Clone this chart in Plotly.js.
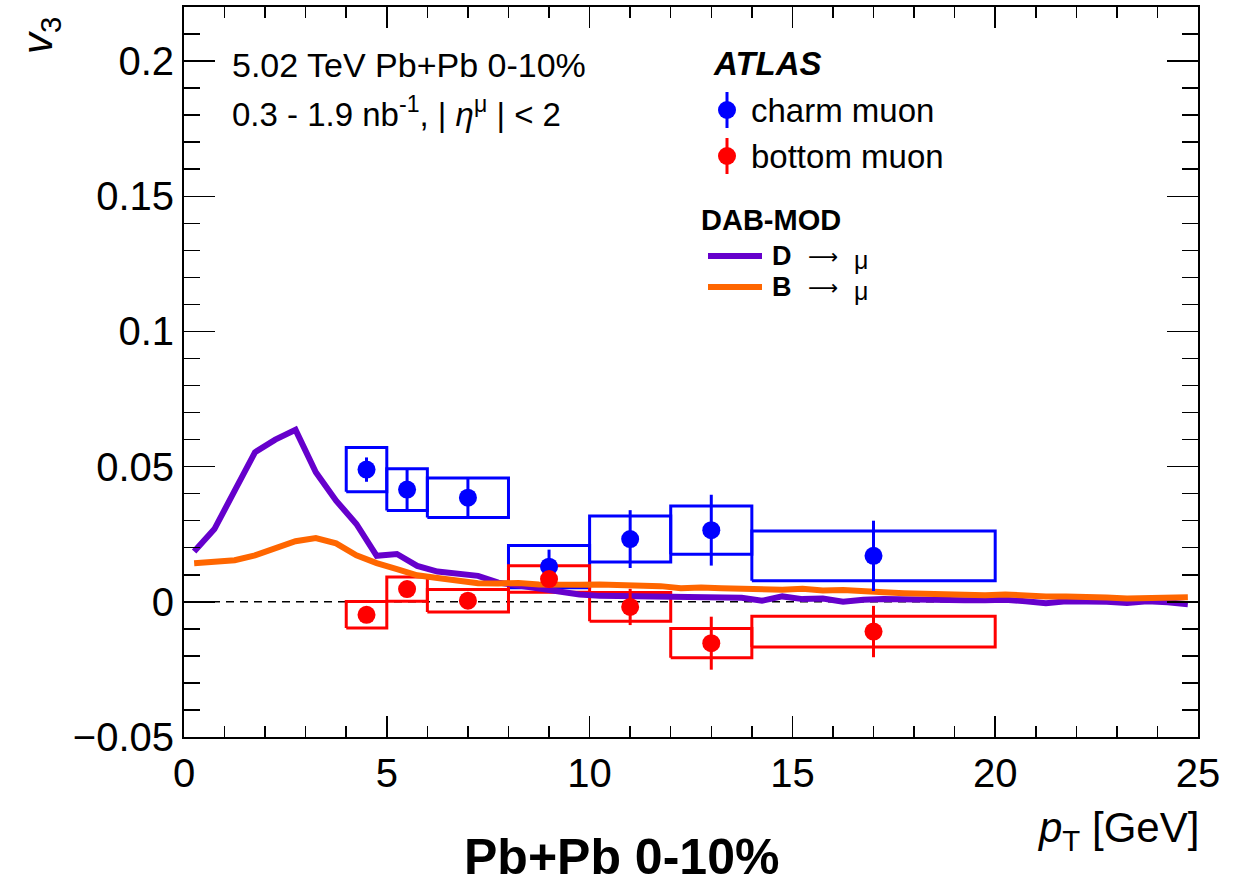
<!DOCTYPE html>
<html>
<head>
<meta charset="utf-8">
<script src="https://cdn.plot.ly/plotly-3.0.1.min.js"></script>
<style>html,body{margin:0;padding:0;background:#fff;}#chart{width:1248px;height:888px;}</style>
</head>
<body>
<div id="chart"></div>
<script>
// ---- data ----
const binCenters = [4.5, 5.5, 7, 9, 11, 13, 17];
const binLow  = [4, 5, 6, 8, 10, 12, 14];
const binHigh = [5, 6, 8, 10, 12, 14, 20];

const charmV    = [0.0489, 0.0415, 0.0385, 0.0130, 0.0232, 0.0265, 0.0170];
const charmStat = [0.0045, 0.0075, 0.0070, 0.0063, 0.0107, 0.0131, 0.0130];
const charmSys  = [0.0082, 0.0077, 0.0073, 0.0078, 0.0085, 0.0089, 0.0092];

const bottomV    = [-0.0048, 0.0047, 0.0004, 0.0084, -0.0019, -0.0153, -0.0110];
const bottomStat = [0.0020, 0.0030, 0.0025, 0.0030, 0.0067, 0.0098, 0.0095];
const bottomSys  = [0.0049, 0.0045, 0.0042, 0.0049, 0.0053, 0.0054, 0.0057];

const modelPt = [0.25,0.75,1.25,1.75,2.25,2.75,3.25,3.75,4.25,4.75,5.25,5.75,6.25,6.75,7.25,7.75,8.25,8.75,9.25,9.75,
                 10.25,10.75,11.25,11.75,12.25,12.75,13.25,13.75,14.25,14.75,15.25,15.75,16.25,16.75,17.25,17.75,18.25,18.75,19.25,19.75,
                 20.25,20.75,21.25,21.75,22.25,22.75,23.25,23.75,24.25,24.75];
const dToMu = [0.0186,0.0269,0.0411,0.0553,0.0600,0.0636,0.0479,0.0374,0.0288,0.0170,0.0177,0.0133,0.0112,0.0105,0.0096,0.0071,0.0059,0.0052,0.0040,0.0027,
               0.0022,0.0021,0.0022,0.0021,0.0019,0.0018,0.0018,0.0015,0.0004,0.0020,0.0010,0.0012,0.0000,0.0008,0.0010,0.0008,0.0006,0.0008,0.0006,0.0006,
               0.0008,0.0002,-0.0005,0.0002,0.0002,0.0000,-0.0004,0.0002,-0.0002,-0.0009];
const bToMu = [0.0143,0.0150,0.0154,0.0172,0.0200,0.0224,0.0236,0.0216,0.0172,0.0143,0.0121,0.0098,0.0088,0.0078,0.0069,0.0068,0.0070,0.0064,0.0062,0.0063,
               0.0064,0.0062,0.0060,0.0058,0.0050,0.0053,0.0050,0.0047,0.0046,0.0045,0.0048,0.0042,0.0044,0.0038,0.0035,0.0032,0.0029,0.0027,0.0028,0.0024,
               0.0027,0.0022,0.0020,0.0020,0.0020,0.0016,0.0012,0.0015,0.0017,0.0017];

const xTickVals = [0, 5, 10, 15, 20, 25];
const yTickVals = [-0.05, 0, 0.05, 0.1, 0.15, 0.2];
const yTickText = ["−0.05", "0", "0.05", "0.1", "0.15", "0.2"];

// ---- styles ----
const FONT = "Liberation Sans, Arial, Helvetica, sans-serif";
const BLUE = "#0000ff", RED = "#ff0000", PURPLE = "#6600cc", ORANGE = "#ff6600";

function boxTrace(vals, sys, color) {
  const xs = [], ys = [];
  for (let i = 0; i < vals.length; i++) {
    const lo = vals[i] - sys[i], hi = vals[i] + sys[i];
    xs.push(binLow[i], binHigh[i], binHigh[i], binLow[i], binLow[i], null);
    ys.push(lo, lo, hi, hi, lo, null);
  }
  return {x: xs, y: ys, type: 'scatter', mode: 'lines', line: {color: color, width: 3}, hoverinfo: 'skip', showlegend: false};
}
function pointTrace(vals, stat, color) {
  return {x: binCenters, y: vals, type: 'scatter', mode: 'markers',
    marker: {color: color, size: 18, symbol: 'circle'},
    error_y: {type: 'data', array: stat, visible: true, color: color, thickness: 3, width: 0},
    showlegend: false};
}

const traces = [
  boxTrace(charmV, charmSys, BLUE),
  boxTrace(bottomV, bottomSys, RED),
  {x: modelPt, y: dToMu, type: 'scatter', mode: 'lines', line: {color: PURPLE, width: 6}, showlegend: false},
  {x: modelPt, y: bToMu, type: 'scatter', mode: 'lines', line: {color: ORANGE, width: 6}, showlegend: false},
  pointTrace(charmV, charmStat, BLUE),
  pointTrace(bottomV, bottomStat, RED)
];

// pixel -> paper helpers (plot area 184..1198 x 7..737)
const L = 184, R = 1198, T = 7, B = 737;
const px = v => (v - L) / (R - L);
const py = v => (B - v) / (B - T);

function ann(text, x, y, size, xanchor, opts) {
  return Object.assign({text: text, xref: 'paper', yref: 'paper', x: px(x), y: py(y),
    xanchor: xanchor || 'left', yanchor: 'middle', showarrow: false, borderpad: 0,
    font: {family: FONT, size: size, color: '#000'}}, opts || {});
}
const ARROWFONT = {family: "DejaVu Sans", size: 21, color: '#000'};

const annotations = [
  ann("5.02 TeV Pb+Pb 0-10%", 231, 65, 34),
  ann("0.3 - 1.9 nb<sup>-1</sup>, | <i>η</i><sup>μ</sup> | &lt; 2", 231, 112, 33),
  ann("<b><i>ATLAS</i></b>", 712, 63, 33),
  ann("charm muon", 750, 110, 33),
  ann("bottom muon", 750, 156, 33),
  ann("<b>DAB-MOD</b>", 700, 220, 29),
  ann("<b>D</b>", 771, 256, 27),
  ann("⟶", 807, 257, 21, 'left', {font: ARROWFONT}),
  ann("μ", 853, 260, 25),
  ann("<b>B</b>", 771, 287, 27),
  ann("⟶", 807, 288, 21, 'left', {font: ARROWFONT}),
  ann("μ", 853, 291, 25),
  ann("<i>v</i><sub>3</sub>", 40, 36, 42, 'center', {textangle: -90}),
  ann("<i>p</i><sub>T</sub> [GeV]", 1200, 830, 42, 'right'),
  ann("<b>Pb+Pb 0-10%</b>", 621, 857, 50, 'center')
];

function legCircle(cx, cy, r, color) {
  return {type: 'circle', xref: 'paper', yref: 'paper', x0: px(cx - r), x1: px(cx + r), y0: py(cy + r), y1: py(cy - r),
    fillcolor: color, line: {color: color, width: 0}};
}
function legLine(x0, y0, x1, y1, color, w) {
  return {type: 'line', xref: 'paper', yref: 'paper', x0: px(x0), x1: px(x1), y0: py(y0), y1: py(y1), line: {color: color, width: w}};
}

const shapes = [
  {type: 'line', xref: 'x', yref: 'y', x0: 0, x1: 25, y0: 0, y1: 0, layer: 'below', line: {color: '#000', width: 1.5, dash: '8px,6px'}},
  legLine(727, 92, 727, 128, BLUE, 3),
  legCircle(727, 110, 9, BLUE),
  legLine(727, 138, 727, 174, RED, 3),
  legCircle(727, 156, 9, RED),
  legLine(708, 256, 762, 256, PURPLE, 6),
  legLine(708, 287, 762, 287, ORANGE, 6)
];

const axisCommon = {
  showline: true, linecolor: '#000', linewidth: 2, mirror: 'allticks',
  ticks: 'inside', tickcolor: '#000', tickwidth: 1.5,
  showgrid: false, zeroline: false,
  tickfont: {family: FONT, size: 40, color: '#000'}
};

const layout = {
  width: 1248, height: 888, autosize: false,
  margin: {l: L, r: 1248 - R, t: T, b: 888 - B, pad: 0},
  paper_bgcolor: '#fff', plot_bgcolor: '#fff',
  showlegend: false,
  xaxis: Object.assign({}, axisCommon, {
    range: [0, 25], tickmode: 'array', tickvals: xTickVals, ticklen: 21,
    minor: {ticks: 'inside', dtick: 1, ticklen: 11, tickcolor: '#000', tickwidth: 1.5, showgrid: false}
  }),
  yaxis: Object.assign({}, axisCommon, {
    range: [-0.05, 0.22], tickmode: 'array', tickvals: yTickVals, ticklen: 31,
    ticktext: yTickText,
    minor: {ticks: 'inside', dtick: 0.01, tick0: 0, ticklen: 16, tickcolor: '#000', tickwidth: 1.5, showgrid: false}
  }),
  annotations: annotations,
  shapes: shapes
};

Plotly.newPlot('chart', traces, layout, {staticPlot: true, displayModeBar: false});
</script>
</body>
</html>
